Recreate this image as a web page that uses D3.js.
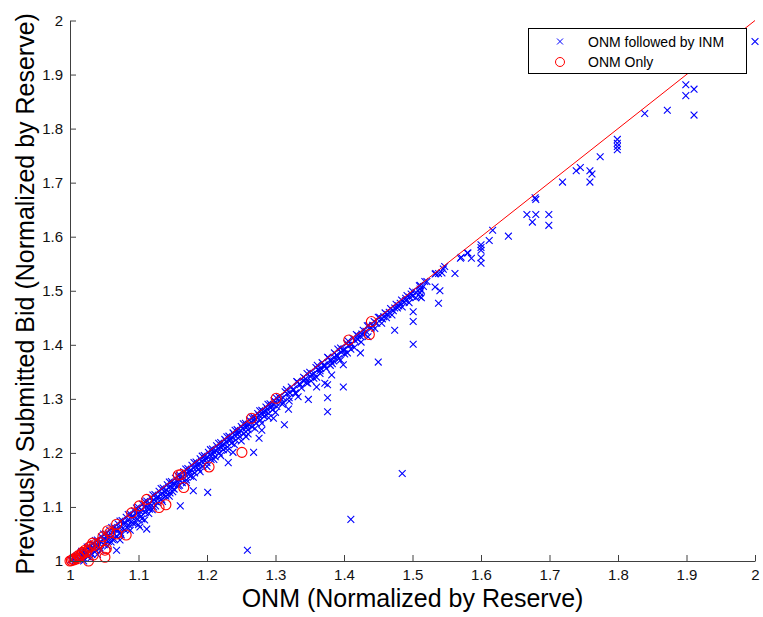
<!DOCTYPE html>
<html><head><meta charset="utf-8">
<script src="https://cdn.jsdelivr.net/npm/d3@7"></script>
<style>body{margin:0;background:#fff;}svg{display:block;font-family:"Liberation Sans",Arial,sans-serif;}</style>
</head><body>
<script>
const xTicks = [1,1.1,1.2,1.3,1.4,1.5,1.6,1.7,1.8,1.9,2];
const yTicks = [1,1.1,1.2,1.3,1.4,1.5,1.6,1.7,1.8,1.9,2];
const seriesNames = ["ONM followed by INM","ONM Only"];
const xTitle = "ONM (Normalized by Reserve)";
const yTitle = "Previously Submitted Bid (Normalized by Reserve)";

// ONM followed by INM: dense band along the diagonal
const inmBand = [
[1.003,1.002],[1.006,1.004],[1.008,1.001],[1.010,1.009],[1.012,1.006],[1.014,1.003],[1.016,1.015],[1.018,1.010],[1.020,1.005],
[1.022,1.020],[1.024,1.016],[1.026,1.008],[1.028,1.027],[1.030,1.022],[1.032,1.012],[1.034,1.032],[1.036,1.028],[1.038,1.019],
[1.040,1.039],[1.042,1.033],[1.044,1.024],[1.046,1.045],[1.048,1.040],[1.050,1.030],[1.052,1.051],[1.054,1.046],[1.056,1.036],
[1.058,1.057],[1.060,1.050],[1.062,1.040],[1.064,1.063],[1.066,1.058],[1.068,1.046],[1.070,1.069],[1.072,1.062],[1.074,1.052],
[1.076,1.075],[1.078,1.070],[1.080,1.058],[1.082,1.081],[1.084,1.075],[1.086,1.066],[1.088,1.087],[1.090,1.082],[1.092,1.070],
[1.094,1.093],[1.096,1.088],[1.098,1.078],[1.100,1.099],[1.102,1.092],[1.104,1.083],[1.106,1.105],[1.108,1.100],[1.110,1.090],
[1.112,1.111],[1.114,1.105],[1.116,1.096],[1.118,1.117],[1.120,1.111],[1.122,1.100],[1.124,1.123],[1.126,1.117],[1.128,1.108],
[1.130,1.129],[1.132,1.123],[1.134,1.114],[1.136,1.135],[1.138,1.129],[1.140,1.120],[1.142,1.141],[1.144,1.136],[1.146,1.126],
[1.148,1.147],[1.150,1.143],[1.152,1.133],[1.154,1.153],[1.156,1.148],[1.158,1.139],[1.160,1.159],[1.162,1.154],[1.164,1.145],
[1.166,1.165],[1.168,1.160],[1.170,1.150],[1.172,1.171],[1.174,1.166],[1.176,1.157],[1.178,1.177],[1.180,1.172],[1.182,1.163],
[1.184,1.183],[1.186,1.178],[1.188,1.170],[1.190,1.189],[1.192,1.184],[1.194,1.175],[1.196,1.195],[1.198,1.190],[1.200,1.182],
[1.202,1.201],[1.204,1.196],[1.206,1.188],[1.208,1.207],[1.210,1.202],[1.212,1.193],[1.214,1.213],[1.216,1.208],[1.218,1.200],
[1.220,1.219],[1.222,1.214],[1.224,1.206],[1.226,1.225],[1.228,1.220],[1.230,1.211],[1.232,1.231],[1.234,1.226],[1.236,1.218],
[1.238,1.237],[1.240,1.233],[1.242,1.224],[1.244,1.243],[1.246,1.238],[1.248,1.230],[1.250,1.249],[1.252,1.245],[1.254,1.236],
[1.256,1.255],[1.258,1.250],[1.260,1.243],[1.262,1.261],[1.264,1.257],[1.266,1.248],[1.268,1.267],[1.270,1.263],[1.272,1.255],
[1.274,1.273],[1.276,1.269],[1.278,1.261],[1.280,1.279],[1.282,1.276],[1.284,1.268],[1.286,1.285],[1.288,1.281],[1.290,1.273],
[1.292,1.291],[1.294,1.287],[1.296,1.280],[1.298,1.297],[1.300,1.294],[1.302,1.286],[1.305,1.304],[1.308,1.300],[1.311,1.293],
[1.314,1.313],[1.317,1.310],[1.320,1.302],[1.323,1.322],[1.326,1.318],[1.329,1.311],[1.332,1.331],[1.335,1.328],[1.338,1.320],
[1.341,1.340],[1.344,1.337],[1.347,1.329],[1.350,1.349],[1.353,1.345],[1.356,1.338],[1.359,1.358],[1.362,1.354],[1.365,1.347],
[1.368,1.367],[1.371,1.363],[1.374,1.356],[1.377,1.376],[1.380,1.372],[1.383,1.365],[1.386,1.385],[1.389,1.381],[1.392,1.374],
[1.395,1.394],[1.398,1.390],[1.401,1.383],[1.404,1.403],[1.407,1.399],[1.410,1.392],[1.413,1.412],[1.416,1.408],[1.420,1.417],
[1.424,1.416],[1.428,1.427],[1.432,1.425],[1.436,1.435],[1.440,1.431],[1.444,1.443],[1.448,1.440],[1.452,1.451],[1.456,1.448],
[1.460,1.459],[1.464,1.456],[1.468,1.467],[1.472,1.463],[1.476,1.475],[1.480,1.472],[1.484,1.483],[1.488,1.479],[1.492,1.491],
[1.496,1.488],[1.500,1.499],[1.505,1.497],[1.510,1.509],[1.516,1.508],
[1.020,1.000],[1.030,1.005],[1.040,1.012],[1.045,1.020],[1.055,1.028],[1.060,1.035],[1.065,1.040],[1.075,1.048],[1.085,1.060],
[1.095,1.070],[1.105,1.078],[1.115,1.088],[1.120,1.095],[1.125,1.102],[1.135,1.110],[1.145,1.120],[1.150,1.128],
[1.160,1.140],[1.170,1.145],[1.180,1.155],[1.190,1.165],[1.200,1.175],[1.210,1.188],[1.220,1.195],[1.230,1.205],[1.240,1.215],
[1.250,1.222],[1.260,1.235],[1.270,1.245],[1.280,1.255],[1.290,1.265],[1.300,1.275],[1.310,1.290],[1.320,1.296],[1.330,1.310],
[1.345,1.330],[1.352,1.333],[1.360,1.340],[1.365,1.352],[1.372,1.360],[1.380,1.362],[1.385,1.370],[1.390,1.380],[1.395,1.372],
[1.400,1.390],[1.405,1.385],[1.410,1.400],[1.415,1.395],[1.420,1.410],[1.425,1.405],[1.430,1.420],[1.435,1.415],[1.445,1.430],
[1.455,1.440],[1.462,1.450],[1.470,1.455],[1.478,1.468],[1.485,1.470],[1.490,1.482],[1.495,1.478],[1.500,1.490],[1.505,1.487],
[1.001,1.002],[1.005,1.006],[1.009,1.007],[1.013,1.012],[1.017,1.018],[1.021,1.017],[1.025,1.026],[1.029,1.020],[1.033,1.025],
[1.037,1.038],[1.041,1.028],[1.045,1.035],[1.049,1.050],[1.053,1.038],[1.057,1.047],[1.061,1.062],[1.065,1.050],[1.069,1.058],
[1.073,1.074],[1.077,1.060],[1.081,1.070],[1.085,1.086],[1.089,1.072],[1.093,1.082],[1.097,1.098],[1.101,1.086],[1.105,1.094],
[1.109,1.110],[1.113,1.098],[1.117,1.106],[1.121,1.122],[1.125,1.110],[1.129,1.118],[1.133,1.134],[1.137,1.122],[1.141,1.131],
[1.145,1.146],[1.149,1.135],[1.153,1.143],[1.157,1.158],[1.161,1.148],[1.165,1.155],[1.169,1.170],[1.173,1.160],[1.177,1.168],
[1.181,1.182],[1.185,1.172],[1.189,1.180],[1.193,1.194],[1.197,1.185],[1.201,1.192],[1.205,1.206],[1.209,1.197],[1.213,1.204],
[1.217,1.218],[1.221,1.209],[1.225,1.216],[1.229,1.230],[1.233,1.222],[1.237,1.228],[1.241,1.242],[1.245,1.234],[1.249,1.241],
[1.253,1.254],[1.257,1.246],[1.261,1.252],[1.265,1.266],[1.269,1.258],[1.273,1.265],[1.277,1.278],[1.281,1.270],[1.285,1.277],
[1.289,1.290],[1.293,1.283],[1.297,1.289],[1.301,1.302],[1.306,1.296],[1.311,1.302],[1.316,1.317],[1.321,1.311],[1.326,1.316],
[1.331,1.332],[1.336,1.326],[1.341,1.333],[1.346,1.347],[1.351,1.341],[1.356,1.347],[1.361,1.362],[1.366,1.356],[1.371,1.361],
[1.376,1.377],[1.381,1.370],[1.386,1.377],[1.391,1.392],[1.396,1.386],[1.401,1.392],[1.406,1.407],[1.411,1.402],[1.418,1.419],
[1.426,1.420],[1.434,1.435],[1.442,1.436],[1.450,1.451],[1.458,1.452],[1.466,1.460],[1.474,1.468],[1.482,1.477],[1.490,1.486],
[1.498,1.494]
];
// ONM followed by INM: scattered points away from the band
const inmOutliers = [
[2.000,1.961],[1.899,1.881],[1.899,1.861],[1.911,1.873],[1.911,1.825],[1.872,1.834],[1.839,1.828],[1.799,1.780],[1.799,1.773],
[1.799,1.767],[1.799,1.761],[1.774,1.748],[1.759,1.722],[1.759,1.701],[1.762,1.716],[1.745,1.728],[1.739,1.722],[1.719,1.701],
[1.679,1.672],[1.680,1.669],[1.667,1.641],[1.680,1.641],[1.675,1.627],[1.699,1.641],[1.699,1.621],[1.617,1.612],[1.640,1.601],
[1.612,1.593],[1.600,1.585],[1.600,1.580],[1.600,1.575],[1.600,1.561],[1.600,1.551],[1.586,1.560],[1.580,1.570],[1.570,1.560],
[1.562,1.532],[1.547,1.545],[1.538,1.532],[1.533,1.531],[1.543,1.533],[1.533,1.507],[1.540,1.500],[1.538,1.477],[1.521,1.517],
[1.511,1.510],[1.511,1.503],[1.511,1.496],[1.511,1.489],[1.581,1.570],[1.571,1.562],[1.545,1.540],[1.534,1.532],[1.518,1.517],
[1.513,1.501],[1.513,1.487],[1.501,1.461],[1.501,1.443],[1.501,1.401],[1.474,1.427],[1.450,1.368],[1.424,1.385],[1.399,1.363],
[1.399,1.322],[1.376,1.302],[1.376,1.276],[1.376,1.326],[1.348,1.299],[1.360,1.322],[1.382,1.344],[1.259,1.020],[1.410,1.077],
[1.485,1.162],[1.313,1.252],[1.276,1.227],[1.268,1.201],[1.231,1.182],[1.201,1.127],[1.180,1.130],[1.161,1.102],[1.238,1.201],
[1.280,1.242],[1.112,1.059],[1.102,1.063],[1.109,1.076],[1.100,1.067],[1.088,1.057],[1.073,1.039],[1.068,1.020],[1.372,1.329],
[1.333,1.304],[1.257,1.230],[1.319,1.281],[1.297,1.264]
];
// ONM Only
const onlyPts = [
[1.000,1.000],[1.002,1.001],[1.004,1.003],[1.006,1.002],[1.008,1.006],[1.010,1.004],[1.012,1.010],[1.014,1.008],[1.016,1.012],
[1.018,1.016],[1.020,1.014],[1.022,1.020],[1.025,1.018],[1.027,1.000],[1.028,1.025],[1.030,1.027],[1.033,1.033],[1.034,1.011],
[1.036,1.030],[1.044,1.034],[1.048,1.045],[1.051,1.020],[1.051,1.007],[1.053,1.023],[1.055,1.056],[1.058,1.052],[1.068,1.068],
[1.068,1.050],[1.082,1.048],[1.090,1.089],[1.101,1.102],[1.112,1.114],[1.130,1.099],[1.140,1.104],[1.158,1.159],[1.162,1.160],
[1.166,1.136],[1.203,1.174],[1.251,1.201],[1.265,1.264],[1.301,1.301],[1.407,1.409],[1.437,1.419],[1.440,1.443]
];
const refLine = [[1,1],[2,2]];

const W = 763, H = 617;
const svg = d3.select("body").append("svg").attr("width", W).attr("height", H);
const x = d3.scaleLinear().domain([1,2]).range([70,755]);
const y = d3.scaleLinear().domain([1,2]).range([561,20.5]);
const axisColor = "#404040";

const inm = inmBand.concat(inmOutliers);
const s = 3.4;
svg.append("g").selectAll("path").data(inm).join("path")
  .attr("d", d => `M${x(d[0])-s},${y(d[1])-s}L${x(d[0])+s},${y(d[1])+s}M${x(d[0])-s},${y(d[1])+s}L${x(d[0])+s},${y(d[1])-s}`)
  .attr("stroke", "#0000ff").attr("stroke-width", 1.1).attr("fill", "none");

svg.append("g").selectAll("circle").data(onlyPts).join("circle")
  .attr("cx", d => x(d[0])).attr("cy", d => y(d[1])).attr("r", 5)
  .attr("stroke", "#ff0000").attr("stroke-width", 1.1).attr("fill", "none");

svg.append("path").datum(refLine)
  .attr("d", d3.line().x(d => x(d[0])).y(d => y(d[1])))
  .attr("stroke", "#ff0000").attr("stroke-width", 1).attr("fill", "none");

const xAxis = svg.append("g").attr("transform", `translate(0,${y(1)})`)
  .call(d3.axisBottom(x).tickValues(xTicks).tickFormat(d3.format("")).tickSizeInner(-6).tickSizeOuter(0).tickPadding(8));
const yAxis = svg.append("g").attr("transform", `translate(${x(1)},0)`)
  .call(d3.axisLeft(y).tickValues(yTicks).tickFormat(d3.format("")).tickSizeInner(-6).tickSizeOuter(0).tickPadding(7));
[xAxis, yAxis].forEach(g => {
  g.selectAll("path,line").attr("stroke", axisColor);
  g.selectAll("text").attr("fill", "#111").style("font-size", "15px").style("font-family", "'Liberation Sans',Arial,sans-serif");
});

svg.append("text").attr("x", (x(1)+x(2))/2 - 0).attr("y", 607).attr("text-anchor", "middle")
  .style("font-size", "25px").attr("fill", "#000").text(xTitle);
svg.append("text").attr("transform", `translate(34,${(y(1)+y(2))/2 + 3}) rotate(-90)`).attr("text-anchor", "middle")
  .style("font-size", "25px").attr("fill", "#000").text(yTitle);

// legend
const lg = svg.append("g");
lg.append("rect").attr("x", 528.5).attr("y", 28.5).attr("width", 218).attr("height", 45)
  .attr("fill", "#fff").attr("stroke", "#000").attr("stroke-width", 1);
const lx = 560, ly1 = 41.5, ly2 = 62;
lg.append("path").attr("d", `M${lx-3},${ly1-3}L${lx+3},${ly1+3}M${lx-3},${ly1+3}L${lx+3},${ly1-3}`)
  .attr("stroke", "#0000ff").attr("fill", "none");
lg.append("circle").attr("cx", lx).attr("cy", ly2).attr("r", 4.5).attr("stroke", "#ff0000").attr("fill", "none");
lg.append("text").attr("x", 588).attr("y", ly1 + 5).style("font-size", "14px").text(seriesNames[0]);
lg.append("text").attr("x", 588).attr("y", ly2 + 5).style("font-size", "14px").text(seriesNames[1]);
</script>
</body></html>
